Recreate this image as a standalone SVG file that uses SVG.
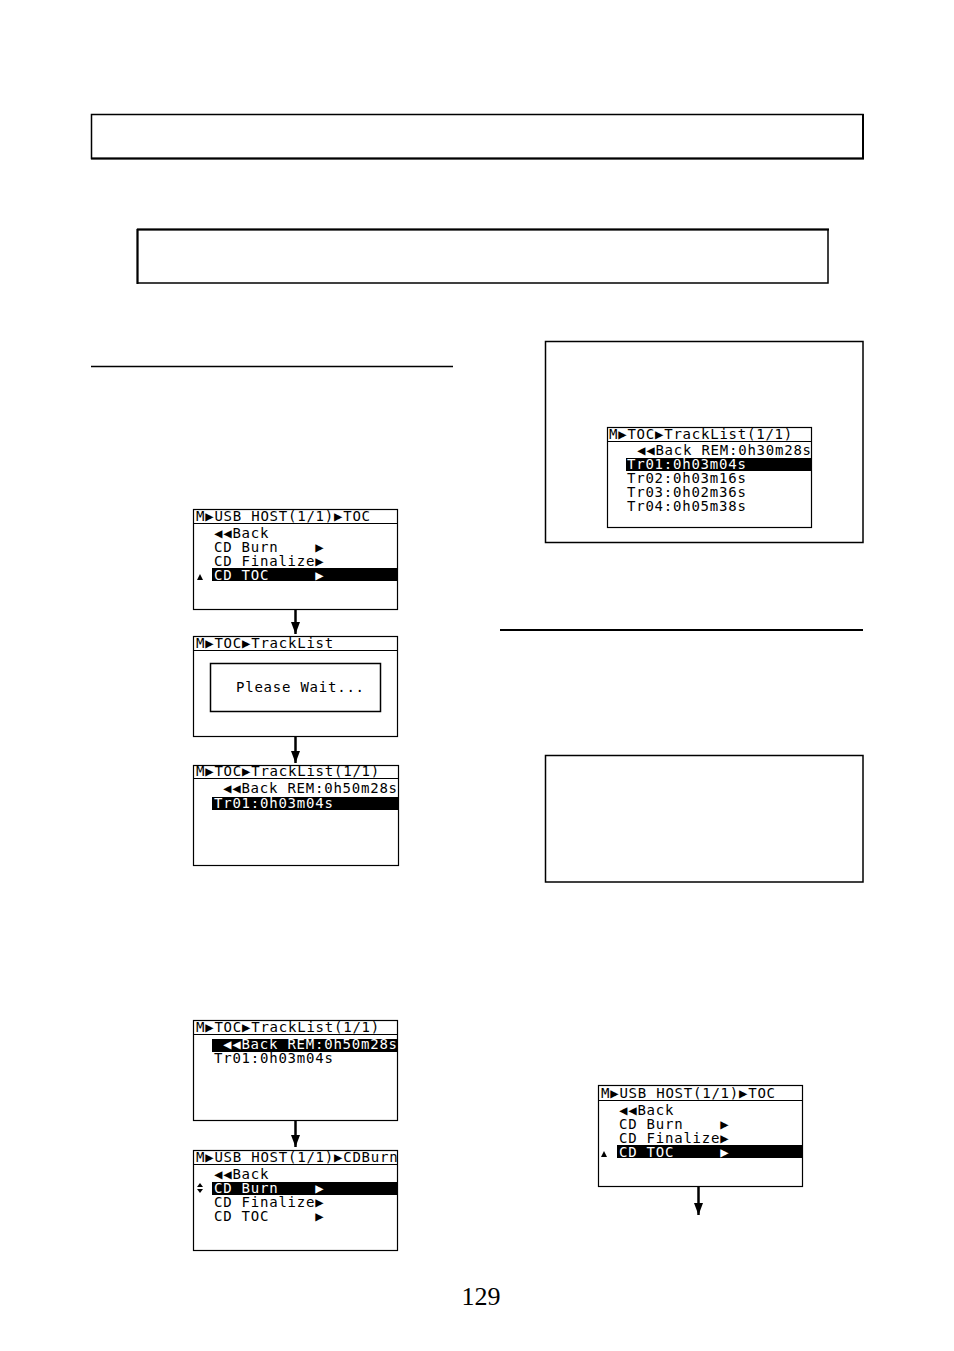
<svg xmlns="http://www.w3.org/2000/svg" width="954" height="1351" viewBox="0 0 954 1351" xml:space="preserve">
<style>
.frame{fill:none;stroke:#000;stroke-width:1.5}
.lcd{fill:#fff;stroke:#000;stroke-width:1.2}
.hl{stroke:#000;stroke-width:1}
.t{font-family:"DejaVu Sans Mono",monospace;font-size:14px;letter-spacing:0.77px;fill:#000;white-space:pre}
.w{fill:#fff}
.bar{fill:#000}
.conn{stroke:#000;stroke-width:2.5;fill:none}
.pg{font-family:"Liberation Serif",serif;font-size:26px;fill:#000}
</style>
<defs>
<marker id="ah" viewBox="0 0 9 12" refX="4.5" refY="12" markerWidth="9" markerHeight="12" markerUnits="userSpaceOnUse" orient="0">
<path d="M0,0 L9,0 L4.5,12 z" fill="#000"/>
</marker>
</defs>
<rect width="954" height="1351" fill="#fff"/>

<g id="box-top">
<rect class="frame" x="91.5" y="114.5" width="771.5" height="44"/>
<line x1="91" y1="158.5" x2="864" y2="158.5" stroke="#000" stroke-width="2"/>
<line x1="863" y1="114" x2="863" y2="159" stroke="#000" stroke-width="2"/>
</g>
<g id="box-second">
<rect class="frame" x="137.5" y="229.5" width="690.5" height="53.5"/>
<line x1="137" y1="229.5" x2="829" y2="229.5" stroke="#000" stroke-width="2"/>
<line x1="137.5" y1="229" x2="137.5" y2="284" stroke="#000" stroke-width="2"/>
</g>
<g id="rule-left"><line x1="91" y1="366.5" x2="453" y2="366.5" stroke="#000" stroke-width="1.5"/></g>
<g id="rule-right"><line x1="500" y1="630" x2="863" y2="630" stroke="#000" stroke-width="2"/></g>

<g id="panel-right">
<rect class="frame" x="545.5" y="341.5" width="317.5" height="201"/>
</g>
<g id="lcd-right">
<rect class="lcd" x="607.5" y="427.5" width="204" height="100"/>
<line class="hl" x1="608" y1="441.5" x2="811" y2="441.5"/>
<text class="t" x="609" y="439">M▶TOC▶TrackList(1/1)</text>
<text class="t" x="637" y="455">◀◀Back REM:0h30m28s</text>
<rect class="bar" x="626" y="458" width="185" height="13"/>
<text class="t w" x="627" y="469">Tr01:0h03m04s</text>
<text class="t" x="627" y="483">Tr02:0h03m16s</text>
<text class="t" x="627" y="497">Tr03:0h02m36s</text>
<text class="t" x="627" y="511">Tr04:0h05m38s</text>
</g>

<g id="panel-right-2">
<rect class="frame" x="545.5" y="755.5" width="317.5" height="126.5"/>
</g>

<g id="lcd-1">
<rect class="lcd" x="193.5" y="509.5" width="204" height="100"/>
<line class="hl" x1="194" y1="523.5" x2="397" y2="523.5"/>
<text class="t" x="196" y="521">M▶USB HOST(1/1)▶TOC</text>
<text class="t" x="214" y="538">◀◀Back</text>
<text class="t" x="214" y="552">CD Burn    ▶</text>
<text class="t" x="214" y="566">CD Finalize▶</text>
<rect class="bar" x="212" y="568" width="185" height="13"/>
<text class="t w" x="214" y="580">CD TOC     ▶</text>
<polygon points="197,580 203,580 200,574" fill="#000"/>
</g>

<g id="lcd-2">
<rect class="lcd" x="193.5" y="636.5" width="204" height="100"/>
<line class="hl" x1="194" y1="650.5" x2="397" y2="650.5"/>
<text class="t" x="196" y="648">M▶TOC▶TrackList</text>
<rect x="210.5" y="663.5" width="170" height="48" fill="none" stroke="#000" stroke-width="1.5"/>
<text class="t" x="236" y="692">Please Wait...</text>
</g>

<g id="lcd-3">
<rect class="lcd" x="193.5" y="765.5" width="205" height="100"/>
<line class="hl" x1="194" y1="778.5" x2="398" y2="778.5"/>
<text class="t" x="196" y="776">M▶TOC▶TrackList(1/1)</text>
<text class="t" x="223" y="793">◀◀Back REM:0h50m28s</text>
<rect class="bar" x="212" y="797" width="186" height="13"/>
<text class="t w" x="214" y="808">Tr01:0h03m04s</text>
</g>

<g id="lcd-4">
<rect class="lcd" x="193.5" y="1020.5" width="204" height="100"/>
<line class="hl" x1="194" y1="1034.5" x2="397" y2="1034.5"/>
<text class="t" x="196" y="1032">M▶TOC▶TrackList(1/1)</text>
<rect class="bar" x="212" y="1039" width="185" height="13"/>
<text class="t w" x="223" y="1049">◀◀Back REM:0h50m28s</text>
<text class="t" x="214" y="1063">Tr01:0h03m04s</text>
</g>

<g id="lcd-5">
<rect class="lcd" x="193.5" y="1150.5" width="204" height="100"/>
<line class="hl" x1="194" y1="1164.5" x2="397" y2="1164.5"/>
<text class="t" x="196" y="1162">M▶USB HOST(1/1)▶CDBurn</text>
<text class="t" x="214" y="1179">◀◀Back</text>
<rect class="bar" x="212" y="1182" width="185" height="13"/>
<text class="t w" x="214" y="1193">CD Burn    ▶</text>
<text class="t" x="214" y="1207">CD Finalize▶</text>
<text class="t" x="214" y="1221">CD TOC     ▶</text>
<polygon points="197,1187 203,1187 200,1183" fill="#000"/>
<polygon points="197,1189 203,1189 200,1193" fill="#000"/>
</g>

<g id="lcd-6">
<rect class="lcd" x="598.5" y="1085.5" width="204" height="101"/>
<line class="hl" x1="599" y1="1100.5" x2="802" y2="1100.5"/>
<text class="t" x="601" y="1098">M▶USB HOST(1/1)▶TOC</text>
<text class="t" x="619" y="1115">◀◀Back</text>
<text class="t" x="619" y="1129">CD Burn    ▶</text>
<text class="t" x="619" y="1143">CD Finalize▶</text>
<rect class="bar" x="617" y="1145" width="185" height="13"/>
<text class="t w" x="619" y="1157">CD TOC     ▶</text>
<polygon points="601,1157 607,1157 604,1151" fill="#000"/>
</g>

<g id="connectors">
<line class="conn" x1="295.5" y1="610" x2="295.5" y2="634" marker-end="url(#ah)"/>
<line class="conn" x1="295.5" y1="737" x2="295.5" y2="763" marker-end="url(#ah)"/>
<line class="conn" x1="295.5" y1="1121" x2="295.5" y2="1147" marker-end="url(#ah)"/>
<line class="conn" x1="698.5" y1="1187" x2="698.5" y2="1215" marker-end="url(#ah)"/>
</g>

<text class="pg" x="481" y="1305" text-anchor="middle">129</text>
</svg>
